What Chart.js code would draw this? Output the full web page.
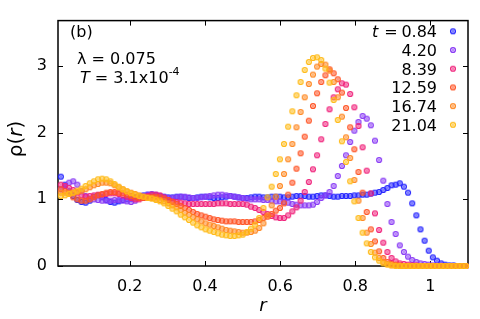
<!DOCTYPE html>
<html>
<head>
<meta charset="utf-8">
<script src="https://cdn.jsdelivr.net/npm/chart.js@4.4.0/dist/chart.umd.min.js"></script>
<style>
html, body { margin: 0; padding: 0; background: #fff; }
#wrap { width: 480px; height: 319px; }
</style>
</head>
<body>
<div id="wrap"><canvas id="chart" width="480" height="319"></canvas></div>
<script>
// radial bins r
const radii = [
    0.0165, 0.0275, 0.0385, 0.0495, 0.0605, 0.0715, 0.0825, 0.0935, 0.1045, 0.1155,
    0.1265, 0.1375, 0.1485, 0.1595, 0.1705, 0.1815, 0.1925, 0.2035, 0.2145, 0.2255,
    0.2365, 0.2475, 0.2585, 0.2695, 0.2805, 0.2915, 0.3025, 0.3135, 0.3245, 0.3355,
    0.3465, 0.3575, 0.3685, 0.3795, 0.3905, 0.4015, 0.4125, 0.4235, 0.4345, 0.4455,
    0.4565, 0.4675, 0.4785, 0.4895, 0.5005, 0.5115, 0.5225, 0.5335, 0.5445, 0.5555,
    0.5665, 0.5775, 0.5885, 0.5995, 0.6105, 0.6215, 0.6325, 0.6435, 0.6545, 0.6655,
    0.6765, 0.6875, 0.6985, 0.7095, 0.7205, 0.7315, 0.7425, 0.7535, 0.7645, 0.7755,
    0.7865, 0.7975, 0.8085, 0.8195, 0.8305, 0.8415, 0.8525, 0.8635, 0.8745, 0.8855,
    0.8965, 0.9075, 0.9185, 0.9295, 0.9405, 0.9515, 0.9625, 0.9735, 0.9845, 0.9955,
    1.0065, 1.0175, 1.0285, 1.0395, 1.0505, 1.0615, 1.0725, 1.0835, 1.0945,
];

const times = ["0.84", "4.20", "8.39", "12.59", "16.74", "21.04"];

const rho_t084 = [
    1.34, 1.22, 1.12, 1.05, 0.99, 0.96, 0.95, 0.98, 1.04, 1.06,
    1.03, 0.99, 0.96, 0.95, 0.97, 0.99, 1.00, 1.01, 1.03, 1.05,
    1.06, 1.07, 1.07, 1.06, 1.05, 1.04, 1.03, 1.03, 1.04, 1.04,
    1.03, 1.02, 1.02, 1.03, 1.04, 1.04, 1.03, 1.02, 1.02, 1.03,
    1.04, 1.05, 1.04, 1.03, 1.02, 1.02, 1.03, 1.04, 1.04, 1.03,
    1.03, 1.04, 1.04, 1.04, 1.03, 1.03, 1.04, 1.05, 1.05, 1.05,
    1.04, 1.04, 1.05, 1.06, 1.06, 1.05, 1.04, 1.04, 1.05, 1.05,
    1.05, 1.06, 1.06, 1.07, 1.07, 1.085, 1.10, 1.11, 1.14, 1.17,
    1.21, 1.22, 1.24, 1.19, 1.10, 0.94, 0.76, 0.55, 0.38, 0.23,
    0.13, 0.08, 0.04, 0.02, 0.01, 0.01, 0, 0, 0,
];

const rho_t420 = [
    1.15, 1.20, 1.25, 1.27, 1.22, 1.12, 1.05, 1.01, 1.00, 0.99,
    0.98, 0.98, 0.98, 0.99, 0.99, 0.98, 0.97, 0.96, 0.98, 1.02,
    1.05, 1.07, 1.08, 1.07, 1.05, 1.03, 1.02, 1.02, 1.03, 1.04,
    1.04, 1.03, 1.02, 1.02, 1.03, 1.04, 1.05, 1.06, 1.07, 1.07,
    1.06, 1.05, 1.04, 1.03, 1.02, 1.01, 1.00, 1.00, 1.00, 0.99,
    0.99, 0.98, 0.97, 0.97, 0.96, 0.95, 0.93, 0.92, 0.91, 0.91,
    0.91, 0.92, 0.96, 1.02, 1.06, 1.11, 1.20, 1.35, 1.50, 1.66,
    1.86, 2.03, 2.16, 2.25, 2.21, 2.11, 1.88, 1.59, 1.28, 0.93,
    0.66, 0.48, 0.31, 0.21, 0.14, 0.09, 0.06, 0.04, 0.03, 0.02,
    0.01, 0.01, 0.01, 0, 0, 0, 0, 0, 0,
];

const rho_t839 = [
    1.22, 1.20, 1.17, 1.14, 1.10, 1.06, 1.04, 1.05, 1.06, 1.07,
    1.07, 1.08, 1.09, 1.09, 1.08, 1.06, 1.04, 1.02, 1.00, 1.00,
    1.02, 1.05, 1.07, 1.07, 1.06, 1.03, 0.99, 0.97, 0.96, 0.95,
    0.94, 0.93, 0.93, 0.93, 0.93, 0.93, 0.93, 0.93, 0.94, 0.94,
    0.94, 0.93, 0.93, 0.93, 0.93, 0.92, 0.89, 0.87, 0.84, 0.81,
    0.78, 0.75, 0.73, 0.72, 0.72, 0.76, 0.82, 0.88, 0.98, 1.11,
    1.26, 1.45, 1.66, 1.90, 2.13, 2.35, 2.53, 2.65, 2.74, 2.72,
    2.58, 2.38, 2.10, 1.78, 1.43, 1.09, 0.79, 0.54, 0.35, 0.21,
    0.12, 0.07, 0.04, 0.03, 0.02, 0.01, 0.01, 0, 0, 0,
    0, 0, 0, 0, 0, 0, 0, 0, 0,
];

const rho_t1259 = [
    1.15, 1.12, 1.08, 1.03, 1.00, 0.98, 0.98, 1.00, 1.03, 1.06,
    1.08, 1.10, 1.11, 1.11, 1.10, 1.09, 1.07, 1.05, 1.03, 1.02,
    1.02, 1.03, 1.04, 1.04, 1.03, 1.01, 0.99, 0.96, 0.93, 0.90,
    0.87, 0.84, 0.81, 0.78, 0.76, 0.74, 0.72, 0.70, 0.69, 0.68,
    0.67, 0.67, 0.67, 0.66, 0.66, 0.66, 0.66, 0.67, 0.69, 0.72,
    0.74, 0.78, 0.83, 0.87, 0.94, 1.07, 1.25, 1.46, 1.69, 1.94,
    2.18, 2.40, 2.59, 2.76, 2.86, 2.95, 2.89, 2.80, 2.60, 2.37,
    2.08, 1.75, 1.41, 1.10, 0.81, 0.55, 0.37, 0.22, 0.12, 0.06,
    0.03, 0.02, 0.01, 0, 0, 0, 0, 0, 0, 0,
    0, 0, 0, 0, 0, 0, 0, 0, 0,
];

const rho_t1674 = [
    1.10, 1.10, 1.10, 1.10, 1.11, 1.13, 1.15, 1.18, 1.21, 1.23,
    1.25, 1.25, 1.24, 1.21, 1.18, 1.15, 1.12, 1.10, 1.08, 1.06,
    1.04, 1.03, 1.02, 1.01, 0.99, 0.97, 0.94, 0.91, 0.88, 0.84,
    0.80, 0.77, 0.73, 0.70, 0.67, 0.64, 0.62, 0.60, 0.58, 0.56,
    0.54, 0.53, 0.52, 0.51, 0.50, 0.50, 0.51, 0.53, 0.57, 0.64,
    0.76, 0.91, 1.04, 1.20, 1.38, 1.60, 1.83, 2.08, 2.31, 2.53,
    2.73, 2.87, 2.99, 3.03, 3.02, 2.93, 2.76, 2.53, 2.24, 1.93,
    1.62, 1.29, 0.98, 0.72, 0.50, 0.33, 0.20, 0.12, 0.06, 0.03,
    0.01, 0.01, 0, 0, 0, 0, 0, 0, 0, 0,
    0, 0, 0, 0, 0, 0, 0, 0, 0,
];

const rho_t2104 = [
    1.05, 1.06, 1.08, 1.10, 1.13, 1.16, 1.20, 1.24, 1.27, 1.30,
    1.31, 1.30, 1.27, 1.23, 1.19, 1.15, 1.12, 1.09, 1.07, 1.05,
    1.04, 1.02, 1.01, 0.99, 0.97, 0.94, 0.90, 0.86, 0.82, 0.77,
    0.73, 0.69, 0.65, 0.61, 0.58, 0.55, 0.53, 0.51, 0.49, 0.47,
    0.46, 0.45, 0.45, 0.46, 0.47, 0.51, 0.56, 0.62, 0.72, 0.87,
    1.03, 1.19, 1.38, 1.60, 1.83, 2.09, 2.32, 2.56, 2.76, 2.94,
    3.06, 3.12, 3.13, 3.09, 2.96, 2.75, 2.49, 2.19, 1.87, 1.56,
    1.27, 0.97, 0.72, 0.50, 0.34, 0.21, 0.13, 0.08, 0.04, 0.02,
    0.01, 0, 0, 0, 0, 0, 0, 0, 0, 0,
    0, 0, 0, 0, 0, 0, 0, 0, 0,
];

const seriesValues = [rho_t084, rho_t420, rho_t839, rho_t1259, rho_t1674, rho_t2104];
const seriesColors = ["#2424ff", "#8a3cf5", "#f0247c", "#ff5526", "#ff8a24", "#ffbb18"];

const xTicks = [0.2, 0.4, 0.6, 0.8, 1];
const yTicks = [0, 1, 2, 3];

const FONT = "'DejaVu Sans', 'Liberation Sans', sans-serif";

// open circle with a small cross inside, like the gnuplot points
const makeMarker = (color) => {
    const c = document.createElement("canvas");
    c.width = 8;
    c.height = 8;
    const g = c.getContext("2d");
    g.strokeStyle = color;
    g.fillStyle = color;
    g.beginPath();
    g.arc(4, 4, 2.45, 0, Math.PI * 2);
    g.globalAlpha = 0.18;
    g.fill();
    g.globalAlpha = 1;
    g.lineWidth = 1.25;
    g.stroke();
    g.lineWidth = 0.7;
    g.globalAlpha = 0.8;
    g.beginPath();
    g.moveTo(3.1, 3.1);
    g.lineTo(4.9, 4.9);
    g.moveTo(4.9, 3.1);
    g.lineTo(3.1, 4.9);
    g.stroke();
    return c;
};

const markers = seriesColors.map(makeMarker);

const datasets = seriesValues.map((vals, i) => ({
    label: "t = " + times[i],
    data: vals.map((v, k) => ({ x: radii[k], y: v })),
    pointStyle: markers[i],
    pointRadius: 3,
    borderColor: seriesColors[i],
    backgroundColor: seriesColors[i],
    showLine: false,
    clip: false,
    order: seriesValues.length - i,
}));

const framePlugin = {
    id: "frame",
    beforeDatasetsDraw(chart) {
        const { ctx, chartArea: a, scales } = chart;
        ctx.save();
        ctx.strokeStyle = "#000";
        ctx.lineWidth = 1.5;
        ctx.strokeRect(a.left, a.top, a.right - a.left, a.bottom - a.top);
        ctx.lineWidth = 1;
        ctx.beginPath();
        xTicks.forEach((v) => {
            const px = Math.round(scales.x.getPixelForValue(v)) + 0.5;
            ctx.moveTo(px, a.bottom);
            ctx.lineTo(px, a.bottom - 5);
            ctx.moveTo(px, a.top);
            ctx.lineTo(px, a.top + 5);
        });
        yTicks.forEach((v) => {
            const py = Math.round(scales.y.getPixelForValue(v)) + 0.5;
            ctx.moveTo(a.left, py);
            ctx.lineTo(a.left + 5, py);
            ctx.moveTo(a.right, py);
            ctx.lineTo(a.right - 5, py);
        });
        ctx.stroke();
        ctx.restore();
    },
    afterDraw(chart) {
        const ctx = chart.ctx;
        ctx.save();
        ctx.fillStyle = "#000";
        ctx.textBaseline = "alphabetic";

        // panel label and parameters
        ctx.font = "16px " + FONT;
        ctx.fillText("(b)", 70, 37);
        ctx.fillText("\u03bb = 0.075", 77, 64);
        ctx.font = "italic 16px " + FONT;
        ctx.fillText("T", 80, 83);
        let x = 80 + ctx.measureText("T").width;
        ctx.font = "16px " + FONT;
        ctx.fillText(" = 3.1x10", x, 83);
        x += ctx.measureText(" = 3.1x10").width;
        ctx.font = "11px " + FONT;
        ctx.fillText("-4", x, 75);

        // legend
        times.forEach((t, i) => {
            const base = 37.3 + 18.7 * i;
            ctx.font = "16px " + FONT;
            ctx.textAlign = "right";
            ctx.fillText(t, 437, base);
            ctx.drawImage(markers[i], 453 - 4, base - 6 - 4);
        });
        ctx.textAlign = "left";
        ctx.font = "italic 16px " + FONT;
        ctx.fillText("t", 372, 37.3);
        ctx.font = "16px " + FONT;
        ctx.fillText(" =", 372 + ctx.measureText("t").width + 1, 37.3);

        // axis titles
        ctx.font = "italic 18px " + FONT;
        ctx.textAlign = "center";
        ctx.fillText("r", 263, 311);

        ctx.translate(22, 139);
        ctx.rotate(-Math.PI / 2);
        ctx.textAlign = "left";
        ctx.font = "20px " + FONT;
        const w1 = ctx.measureText("\u03c1(").width;
        ctx.font = "italic 20px " + FONT;
        const w2 = ctx.measureText("r").width;
        ctx.font = "20px " + FONT;
        const w3 = ctx.measureText(")").width;
        let sx = -(w1 + w2 + w3) / 2;
        ctx.fillText("\u03c1(", sx, 0);
        sx += w1;
        ctx.font = "italic 20px " + FONT;
        ctx.fillText("r", sx, 0);
        sx += w2;
        ctx.font = "20px " + FONT;
        ctx.fillText(")", sx, 0);
        ctx.restore();
    },
};

new Chart(document.getElementById("chart"), {
    type: "scatter",
    data: { datasets },
    options: {
        responsive: false,
        animation: false,
        layout: { padding: { top: 15, right: 12, left: 0, bottom: 0 } },
        plugins: {
            legend: { display: false },
            tooltip: { enabled: false },
        },
        scales: {
            x: {
                type: "linear",
                min: 0.009,
                max: 1.1,
                afterBuildTicks: (s) => {
                    s.ticks = xTicks.map((v) => ({ value: v }));
                },
                afterFit: (s) => {
                    s.height = 53;
                },
                ticks: {
                    color: "#000",
                    font: { family: FONT, size: 16 },
                    padding: 11,
                    maxRotation: 0,
                    autoSkip: false,
                    callback: (v) => String(v),
                },
                grid: { display: false, drawTicks: false },
                border: { display: false },
            },
            y: {
                type: "linear",
                min: 0,
                max: 3.68,
                afterBuildTicks: (s) => {
                    s.ticks = yTicks.map((v) => ({ value: v }));
                },
                afterFit: (s) => {
                    s.width = 58;
                },
                ticks: {
                    color: "#000",
                    font: { family: FONT, size: 16 },
                    padding: 11,
                    autoSkip: false,
                    callback: (v) => String(v),
                },
                grid: { display: false, drawTicks: false },
                border: { display: false },
            },
        },
    },
    plugins: [framePlugin],
});
</script>
</body>
</html>
